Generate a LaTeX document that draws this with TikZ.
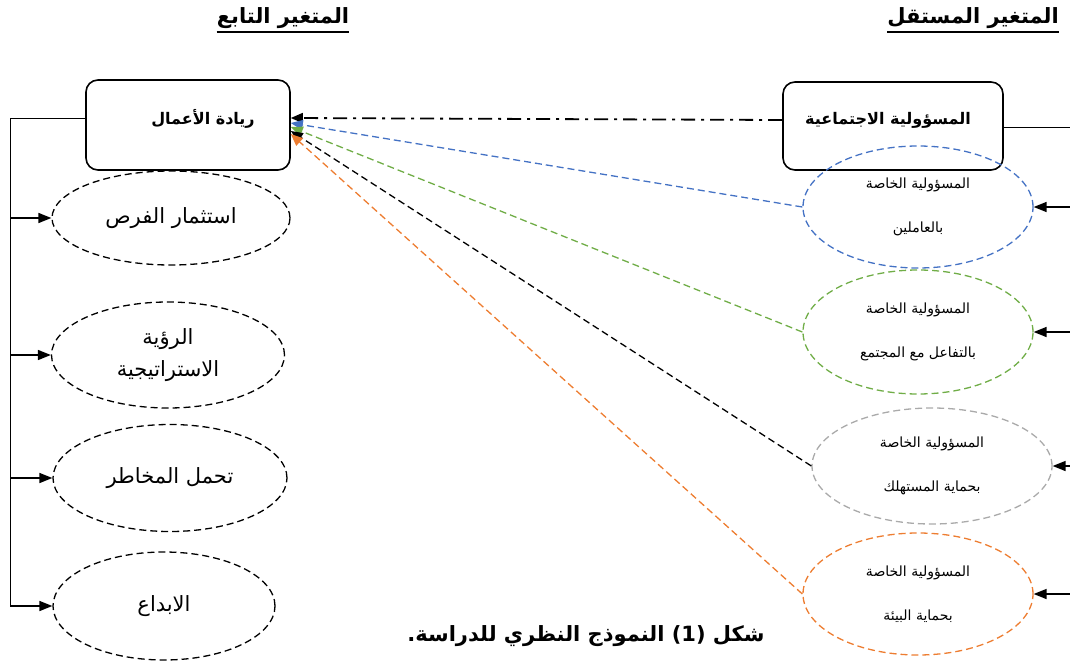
\documentclass[tikz,border=0pt]{standalone}
\usepackage{fontspec}
\usetikzlibrary{positioning}
\usetikzlibrary{shapes.geometric}
\usetikzlibrary{arrows.meta}
\newfontfamily\arabicfont[Script=Arabic]{DejaVu Sans}
\TeXXeTstate=1
\definecolor{blueline}{RGB}{68,114,196}
\definecolor{greenline}{RGB}{112,173,71}
\definecolor{grayline}{RGB}{170,170,170}
\definecolor{orangeline}{RGB}{237,125,49}
\tikzset{
    varbox/.style = {rounded corners=12pt, draw=black, line width=1.6pt, minimum width=204pt, minimum height=90pt},
    boxtext/.style = {font=\arabicfont\bfseries\fontsize{16}{20}\selectfont, inner sep=0pt},
    dimnode/.style = {ellipse, draw=black, line width=1.3pt, dash pattern=on 7pt off 4pt, align=center, font=\arabicfont\fontsize{21}{32}\selectfont, inner sep=0pt},
    subnode/.style = {ellipse, line width=1.3pt, dash pattern=on 7pt off 4pt, align=center, font=\arabicfont\fontsize{14}{44}\selectfont, inner sep=0pt, minimum width=230pt, minimum height=122pt},
    header/.style = {font=\arabicfont\bfseries\fontsize{21}{24}\selectfont, inner sep=0pt},
    feed/.style = {-{Triangle[length=12pt,width=10pt]}, line width=1.3pt, dash pattern=on 7pt off 4pt},
    solidarrow/.style = {-{Triangle[length=13pt,width=10pt]}, line width=1.6pt},
}
\begin{document}
\begin{tikzpicture}[x=1pt, y=-1pt]
  \useasboundingbox (0,0) rectangle (1070,666);
  % headers
  \node[header] (hdep) at (283,18) {\beginR المتغير التابع\endR};
  \node[header] (hind) at (973,18) {\beginR المتغير المستقل\endR};
  \draw[line width=1.8pt] ([yshift=-3pt]hdep.south west) -- ([yshift=-3pt]hdep.south east);
  \draw[line width=1.8pt] ([yshift=-3pt]hind.south west) -- ([yshift=-3pt]hind.south east);

  % main boxes
  \node[varbox] (ent) at (188,125) {};
  \node[boxtext] (entlbl) at (203,119) {\beginR ريادة الأعمال\endR};
  \node[varbox, minimum width=220pt, minimum height=88pt] (csr) at (893,126) {};
  \node[boxtext] (csrlbl) at (888,120) {\beginR المسؤولية الاجتماعية\endR};

  % dependent dimensions
  \node[dimnode, minimum width=238pt, minimum height=94pt] (e1) at (171,218) {\beginR استثمار الفرص\endR};
  \node[dimnode, minimum width=233pt, minimum height=106pt] (e2) at (168,355) {\beginR الرؤية\endR\\\beginR الاستراتيجية\endR};
  \node[dimnode, minimum width=234pt, minimum height=107pt] (e3) at (170,478) {\beginR تحمل المخاطر\endR};
  \node[dimnode, minimum width=222pt, minimum height=108pt] (e4) at (164,606) {\beginR الابداع\endR};

  % independent dimensions
  \node[subnode, draw=blueline] (s1) at (918,207) {\beginR المسؤولية الخاصة\endR\\\beginR بالعاملين\endR};
  \node[subnode, draw=greenline, minimum height=124pt] (s2) at (918,332) {\beginR المسؤولية الخاصة\endR\\\beginR بالتفاعل مع المجتمع\endR};
  \node[subnode, draw=grayline, minimum width=240pt, minimum height=116pt] (s3) at (932,466) {\beginR المسؤولية الخاصة\endR\\\beginR بحماية المستهلك\endR};
  \node[subnode, draw=orangeline] (s4) at (918,594) {\beginR المسؤولية الخاصة\endR\\\beginR بحماية البيئة\endR};

  % left trunk
  \draw[line width=0.8pt] ([yshift=7pt]ent.west) -- ++(-75,0) coordinate (trunk) -- (trunk |- e4.west);
  \draw[solidarrow] (trunk |- e1.west) -- (e1.west);
  \draw[solidarrow] (trunk |- e2.west) -- (e2.west);
  \draw[solidarrow] (trunk |- e3.west) -- (e3.west);
  \draw[solidarrow] (trunk |- e4.west) -- (e4.west);

  % right inputs
  \coordinate (rtop) at (1070,127);
  \draw[line width=0.8pt] (csr.east |- rtop) -- (rtop);
  \coordinate (in1) at (1070,207);
  \coordinate (in2) at (1070,332);
  \coordinate (in3) at (1070,466);
  \coordinate (in4) at (1070,594);
  \draw[solidarrow] (in1) -- (s1.east);
  \draw[solidarrow] (in2) -- (s2.east);
  \draw[solidarrow] (in3) -- (s3.east);
  \draw[solidarrow] (in4) -- (s4.east);

  % effects
  \draw[-{Triangle[length=12pt,width=10pt]}, line width=1.8pt, dash pattern=on 14pt off 6pt on 3pt off 6pt] ([yshift=6pt]csr.west) -- ([yshift=7pt]ent.east);
  \draw[feed, blueline] (s1.west) -- ([yshift=2pt]ent.east);
  \draw[feed, greenline] (s2.west) -- ([yshift=-2pt]ent.east);
  \draw[feed, black] (s3.west) -- ([yshift=-6pt]ent.east);
  \draw[feed, orangeline] (s4.west) -- ([yshift=-9pt]ent.east);

  % caption
  \node[header] (cap) at (586,636) {\beginR شكل \beginL(1)\endL{} النموذج النظري للدراسة.\endR};
\end{tikzpicture}
\end{document}
